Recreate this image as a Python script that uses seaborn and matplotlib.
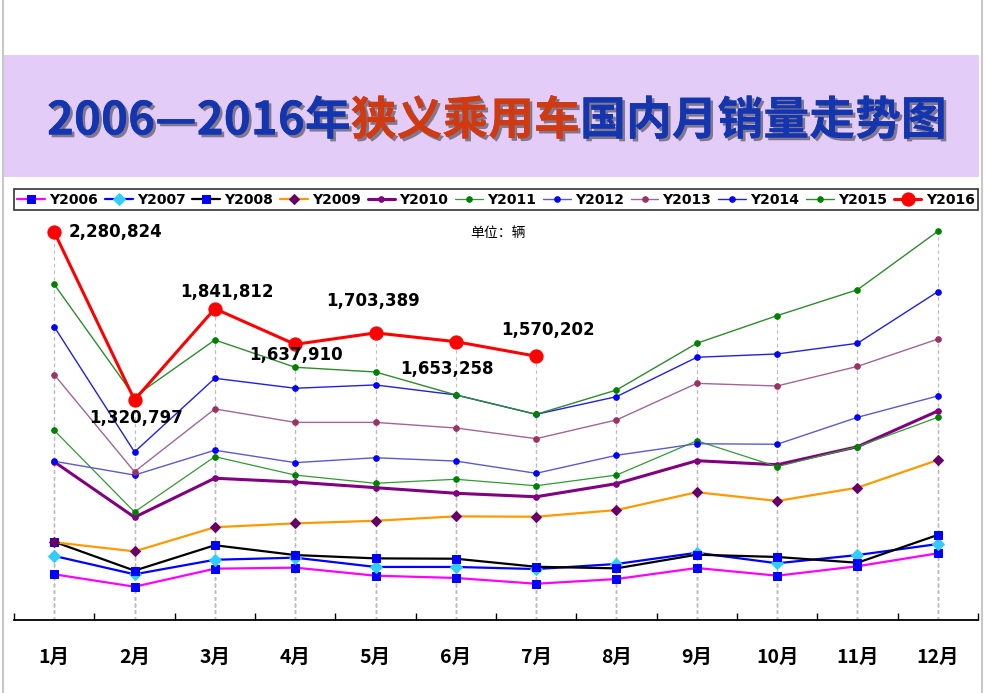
import matplotlib
matplotlib.use("Agg")
import matplotlib.pyplot as plt
import matplotlib.patheffects as pe
from matplotlib.lines import Line2D
import seaborn as sns
import numpy as np

sns.set_theme(style="white")
plt.rcParams['font.family'] = ['DejaVu Sans', 'Noto Sans CJK SC']
plt.rcParams['text.color'] = 'black'
plt.rcParams['xtick.color'] = 'black'

months = ["1月", "2月", "3月", "4月", "5月", "6月", "7月", "8月", "9月", "10月", "11月", "12月"]

Y2006 = [324000, 253000, 356000, 362000, 316000, 303000, 270000, 297000, 360000, 316000, 370000, 444000]
Y2007 = [429000, 324000, 407000, 419000, 366000, 366000, 354000, 383000, 447000, 387000, 434000, 497000]
Y2008 = [510000, 345000, 490000, 434000, 415000, 413000, 367000, 358000, 436000, 423000, 390000, 549000]
Y2009 = [507000, 455000, 593000, 615000, 630000, 655000, 653000, 691000, 793000, 743000, 819000, 977000]
Y2010 = [967000, 650000, 873000, 851000, 819000, 787000, 767000, 842000, 973000, 950000, 1053000, 1257000]
Y2011 = [1147000, 680000, 996000, 891000, 844000, 867000, 830000, 891000, 1087000, 939000, 1053000, 1221000]
Y2012 = [970000, 891000, 1033000, 962000, 990000, 971000, 901000, 1004000, 1070000, 1067000, 1221000, 1343000]
Y2013 = [1465000, 910000, 1269000, 1192000, 1192000, 1160000, 1099000, 1206000, 1415000, 1400000, 1512000, 1668000]
Y2014 = [1739000, 1023000, 1444000, 1387000, 1406000, 1349000, 1238000, 1339000, 1564000, 1583000, 1644000, 1939000]
Y2015 = [1981000, 1339000, 1663000, 1507000, 1480000, 1349000, 1238000, 1377000, 1644000, 1802000, 1950000, 2284000]
Y2016 = [2280824, 1320797, 1841812, 1637910, 1703389, 1653258, 1570202]

series = [
    ("Y2006", Y2006, dict(color="#FF00FF", lw=1.6, marker="s", ms=5.5, mfc="#0000FF", mec="#0000FF")),
    ("Y2007", Y2007, dict(color="#0000FF", lw=1.6, marker="D", ms=6.5, mfc="#33CCFF", mec="#33CCFF")),
    ("Y2008", Y2008, dict(color="#000000", lw=1.6, marker="s", ms=6, mfc="#0000FF", mec="#0000FF")),
    ("Y2009", Y2009, dict(color="#FF9900", lw=1.6, marker="D", ms=5.5, mfc="#660066", mec="#660066")),
    ("Y2010", Y2010, dict(color="#800080", lw=2.2, marker="o", ms=4, mfc="#800080", mec="#800080")),
    ("Y2011", Y2011, dict(color="#339933", lw=0.9, marker="o", ms=4, mfc="#008000", mec="#008000")),
    ("Y2012", Y2012, dict(color="#5A5ACD", lw=1.0, marker="o", ms=4, mfc="#0000FF", mec="#0000FF")),
    ("Y2013", Y2013, dict(color="#A0669A", lw=1.0, marker="o", ms=4, mfc="#993366", mec="#993366")),
    ("Y2014", Y2014, dict(color="#2020E0", lw=1.0, marker="o", ms=4, mfc="#0000FF", mec="#0000FF")),
    ("Y2015", Y2015, dict(color="#2E8B2E", lw=1.0, marker="o", ms=4, mfc="#008000", mec="#008000")),
    ("Y2016", Y2016, dict(color="#FF0000", lw=2.2, marker="o", ms=9.5, mfc="#FF0000", mec="#FF0000")),
]

W, H = 986, 693
fig = plt.figure(figsize=(W / 100, H / 100), dpi=100)
fig.patch.set_facecolor("white")

def fx(px):
    return px / W

def fy(py):
    return (H - py) / H

# title band
bax = fig.add_axes([fx(3), fy(177), fx(979) - fx(3), fy(55) - fy(177)])
bax.set_facecolor("#E3CDF8")
bax.set_xticks([]); bax.set_yticks([])
for s in bax.spines.values():
    s.set_visible(False)

tkw = dict(fontsize=33, fontweight="bold", family=["Noto Sans CJK SC"],
           path_effects=[pe.withSimplePatchShadow(offset=(2, -2), shadow_rgbFace="#222222", alpha=0.5), pe.Normal()])
t1 = bax.text(0.045, 0.455, "2006—2016年", transform=bax.transAxes, va="center", ha="left", color="#1336B0", **tkw)
t2 = bax.annotate("狭义乘用车", xy=(1, 0), xycoords=t1, va="bottom", ha="left", color="#D03A10", **tkw)
t3 = bax.annotate("国内月销量走势图", xy=(1, 0), xycoords=t2, va="bottom", ha="left", color="#1336B0", **tkw)

# main axes
ax = fig.add_axes([fx(14), fy(620), fx(978) - fx(14), fy(220) - fy(620)])
ymin, ymax = 62854, 2348454
x = np.arange(len(months))

for name, vals, st in series:
    xs = x[:len(vals)]
    ax.vlines(xs, ymin, vals, colors="#BDBDBD", linestyles=(0, (3, 3)), lw=0.8, zorder=1)

for i, (name, vals, st) in enumerate(series):
    xs = x[:len(vals)]
    sns.lineplot(x=xs, y=vals, ax=ax, color=st["color"], linewidth=st["lw"], marker=st["marker"],
                 markersize=st["ms"], markerfacecolor=st["mfc"], markeredgecolor=st["mec"],
                 label=name, zorder=3 + i, estimator=None, sort=False)

ax.set_xlim(-0.5, 11.5)
ax.set_ylim(ymin, ymax)
ax.set_facecolor("white")
for s in ["left", "right", "top"]:
    ax.spines[s].set_visible(False)
ax.spines["bottom"].set_color("black")
ax.spines["bottom"].set_linewidth(1.3)
ax.set_yticks([])
ax.set_xticks(x)
ax.set_xticklabels(months, fontsize=14, fontweight="bold", color="black", family=["Noto Sans CJK SC"])
ax.set_xticks(np.arange(-0.5, 12, 1), minor=True)
ax.tick_params(axis="x", which="major", length=0, pad=20)
ax.tick_params(axis="x", which="minor", direction="in", length=5, width=1, color="black", bottom=True)
ax.set_xlabel(""); ax.set_ylabel("")
ax.grid(False)

# data labels for Y2016
offsets = [(14, 0, "left", "center"), (2, -18, "center", "center"), (12, 17, "center", "center"),
           (1, -11, "center", "center"), (-2, 32, "center", "center"), (-9, -27, "center", "center"),
           (12, 26, "center", "center")]
for i, v in enumerate(Y2016):
    dx, dy, ha, va = offsets[i]
    ax.annotate(f"{v:,}", xy=(i, v), xytext=(dx, dy), textcoords="offset pixels", ha=ha, va=va,
                fontsize=12, fontweight="bold", color="black", zorder=20)

fig.text(fx(498), fy(233), "单位：辆", fontsize=10, ha="center", va="center",
         family=["Noto Sans CJK SC"], color="black")

# legend
handles, labels = ax.get_legend_handles_labels()
leg = fig.legend(handles, labels, loc="lower left",
                 bbox_to_anchor=(fx(14), fy(210), fx(978) - fx(14), fy(186) - fy(210)),
                 mode="expand", ncol=11, frameon=True, fancybox=False, borderaxespad=0,
                 handlelength=2.0, handletextpad=0.3, columnspacing=0.4, borderpad=0.25,
                 prop={"weight": "bold", "size": 10, "family": "DejaVu Sans"})
leg.get_frame().set_edgecolor("black")
leg.get_frame().set_linewidth(1.2)
for t in leg.get_texts():
    t.set_color("black")
if ax.get_legend() is not None:
    ax.get_legend().remove()

# outer frame
fig.add_artist(Line2D([fx(3), fx(3)], [0, 1], color="#C8C8C8", lw=1.5))
fig.add_artist(Line2D([fx(982), fx(982)], [0, 1], color="#C8C8C8", lw=1.5))

fig.savefig("out.png", dpi=100, facecolor="white")
